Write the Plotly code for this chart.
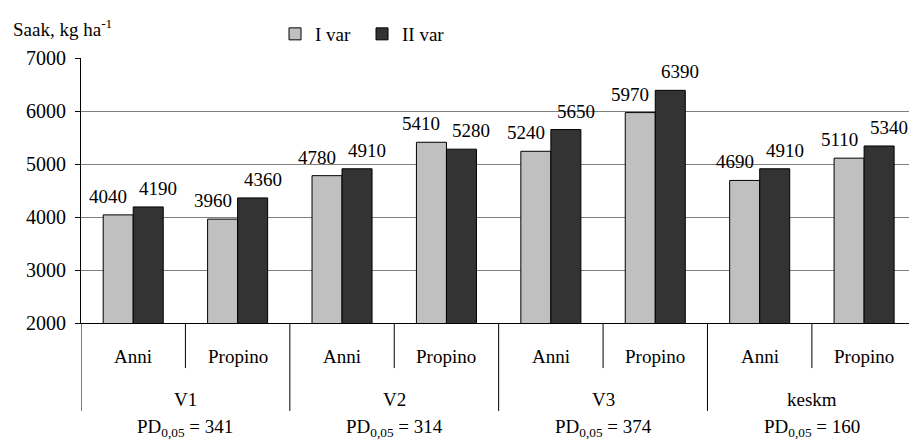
import plotly.graph_objects as go

groups = ["V1", "V2", "V3", "keskm"]
varieties = ["Anni", "Propino"]
series_names = ["I var", "II var"]
var1_values = [4040, 3960, 4780, 5410, 5240, 5970, 4690, 5110]
var2_values = [4190, 4360, 4910, 5280, 5650, 6390, 4910, 5340]
pd_values = ["341", "314", "374", "160"]
y_ticks = [2000, 3000, 4000, 5000, 6000, 7000]

categories = [f"{g} {v}" for g in groups for v in varieties]
inner_labels = [v for g in groups for v in varieties]

FONT = "Liberation Serif, Times New Roman, serif"
FS = 19

fig = go.Figure()
colors = ["#c0c0c0", "#333333"]
for name, vals, col in zip(series_names, [var1_values, var2_values], colors):
    fig.add_trace(go.Bar(
        x=categories, y=vals, name=name,
        marker=dict(color=col, line=dict(color="black", width=1)),
    ))

annotations = []
shapes = []
# value labels
for vals, shift in [(var1_values, -25), (var2_values, 25)]:
    for i, v in enumerate(vals):
        annotations.append(dict(
            x=i, y=v, xref="x", yref="y", text=str(v), showarrow=False,
            xshift=shift, yshift=6, yanchor="bottom",
            font=dict(family=FONT, size=FS, color="black"),
        ))

# inner labels and short separators
Y_INNER = -0.128
Y_OUTER = -0.287
Y_PD = -0.396
for i, lab in enumerate(inner_labels):
    annotations.append(dict(x=i, y=Y_INNER, xref="x", yref="paper", text=lab,
                            showarrow=False, yanchor="middle",
                            font=dict(family=FONT, size=FS, color="black")))
for gi, g in enumerate(groups):
    c = gi * 2 + 0.5
    annotations.append(dict(x=c, y=Y_OUTER, xref="x", yref="paper", text=g,
                            showarrow=False, yanchor="middle",
                            font=dict(family=FONT, size=FS, color="black")))
    annotations.append(dict(x=c, y=Y_PD, xref="x", yref="paper",
                            text=f"PD<sub>0,05</sub> = {pd_values[gi]}",
                            showarrow=False, yanchor="middle",
                            font=dict(family=FONT, size=FS, color="black")))
    shapes.append(dict(type="line", xref="x", yref="paper", x0=c, x1=c,
                       y0=0, y1=-0.17, line=dict(color="black", width=1)))
    xl = gi * 2 - 0.5
    shapes.append(dict(type="line", xref="x", yref="paper", x0=xl, x1=xl,
                       y0=0, y1=-0.332, line=dict(color="black", width=1)))

annotations.append(dict(x=-81 / 828 + 11 / 828, y=1 + 30 / 265, xref="paper", yref="paper",
                        text="Saak, kg ha<sup>-1</sup>", showarrow=False,
                        xanchor="left", yanchor="middle",
                        font=dict(family=FONT, size=FS, color="black")))

fig.update_layout(
    width=909, height=440,
    margin=dict(l=81, r=0, t=58, b=117),
    paper_bgcolor="white", plot_bgcolor="white",
    barmode="group", bargap=0.425, bargroupgap=0,
    font=dict(family=FONT, size=FS, color="black"),
    showlegend=True,
    legend=dict(orientation="h", x=0.2295 + 4 / 828, y=1 + 24 / 265, xanchor="left",
                yanchor="middle", font=dict(family=FONT, size=FS, color="black"),
                bgcolor="rgba(0,0,0,0)", entrywidth=42, entrywidthmode="pixels"),
    xaxis=dict(type="category", range=[-0.5, 7.43], showticklabels=False,
               ticks="", showgrid=False, showline=True, linecolor="black",
               linewidth=1, zeroline=False, fixedrange=True),
    yaxis=dict(range=[2000, 7000], tickvals=y_ticks, showgrid=True,
               gridcolor="#808080", gridwidth=1, showline=True, linecolor="black",
               linewidth=1, ticks="outside", ticklen=5, tickcolor="black",
               ticklabelstandoff=5,
               tickfont=dict(family=FONT, size=20, color="black"), zeroline=False),
    annotations=annotations, shapes=shapes,
)
fig.write_html("out.html", config={"displayModeBar": False},
               post_script="document.body.style.margin='0px';")
